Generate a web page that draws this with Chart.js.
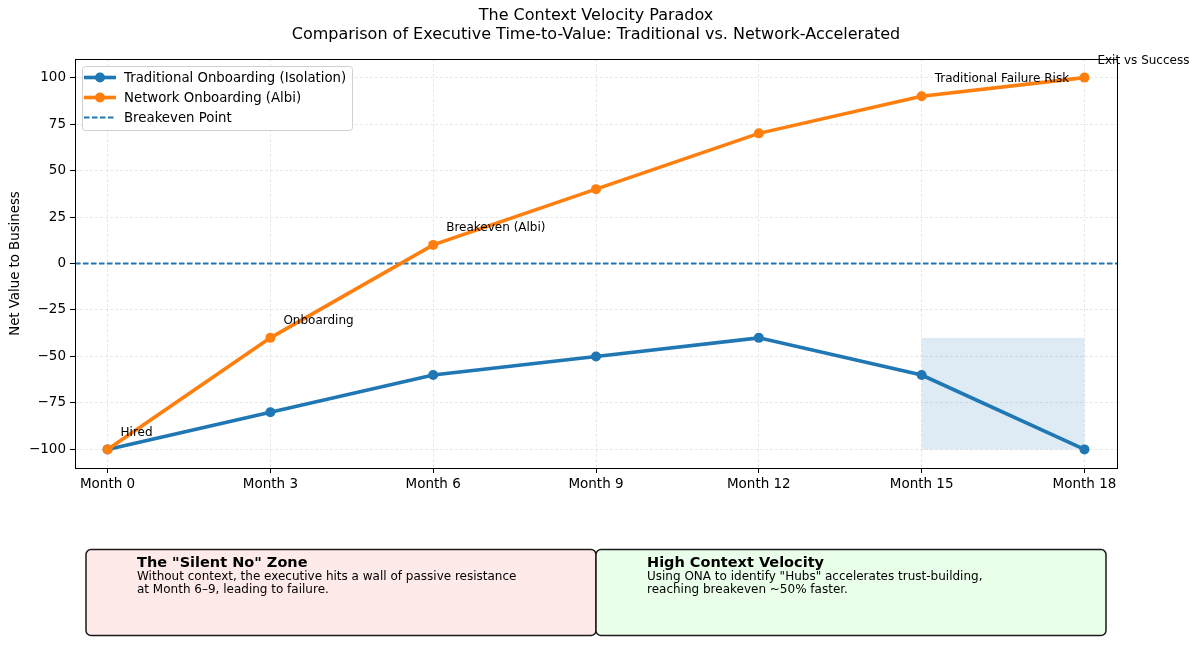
<!DOCTYPE html>
<html>
<head>
<meta charset="utf-8">
<title>The Context Velocity Paradox</title>
<script src="https://cdn.jsdelivr.net/npm/chart.js@4.4.1/dist/chart.umd.min.js"></script>
<style>
    body { margin: 0; background: #fff; }
    #wrap { width: 1200px; height: 661px; }
</style>
</head>
<body>
<div id="wrap"><canvas id="velocity-chart" width="1200" height="661"></canvas></div>
<script>
// --- DATA ---
const months = ['Month 0', 'Month 3', 'Month 6', 'Month 9', 'Month 12', 'Month 15', 'Month 18'];
const traditional = [-100, -80, -60, -50, -40, -60, -100];
const network = [-100, -40, 10, 40, 70, 90, 100];
const breakeven = 0;
const yTicks = [-100, -75, -50, -25, 0, 25, 50, 75, 100];

// annotations (label, month index, value)
const noteLabels = ['Hired', 'Onboarding', 'Breakeven (Albi)', 'Traditional Failure Risk', 'Exit vs Success'];
const noteMonths = [0, 1, 2, 5, 6];
const noteValues = [-100, -40, 10, 90, 100];

// shaded failure zone (month index range, value range)
const riskZoneMonths = [5, 6];
const riskZoneValues = [-100, -40];

const X_MIN = -0.2, X_MAX = 6.2;
const Y_MIN = -110, Y_MAX = 110;

const BLUE = '#1f77b4';
const ORANGE = '#ff7f0e';
const FONT = "'DejaVu Sans', sans-serif";

function toPoints(values) {
    return values.map((v, i) => ({ x: i, y: v }));
}

// --- CUSTOM DRAWING (frame, zone, legend, notes, titles, boxes) ---
const decorPlugin = {
    id: 'decor',
    beforeDatasetsDraw(chart) {
        const { ctx, scales: { x, y } } = chart;
        const x1 = x.getPixelForValue(riskZoneMonths[0]);
        const x2 = x.getPixelForValue(riskZoneMonths[1]);
        const y1 = y.getPixelForValue(riskZoneValues[1]);
        const y2 = y.getPixelForValue(riskZoneValues[0]);
        ctx.save();
        ctx.fillStyle = 'rgba(31, 119, 180, 0.15)';
        ctx.fillRect(x1, y1, x2 - x1, y2 - y1);
        ctx.restore();
    },
    afterDraw(chart) {
        const { ctx, chartArea: a, scales: { x, y } } = chart;
        ctx.save();

        // axes frame
        ctx.setLineDash([]);
        ctx.strokeStyle = '#000';
        ctx.lineWidth = 1;
        ctx.strokeRect(Math.round(a.left) + 0.5, Math.round(a.top) + 0.5,
            Math.round(a.right - a.left), Math.round(a.bottom - a.top));

        // titles
        ctx.fillStyle = '#000';
        ctx.textAlign = 'center';
        ctx.textBaseline = 'middle';
        ctx.font = `16px ${FONT}`;
        const cx = (a.left + a.right) / 2;
        ctx.fillText('The Context Velocity Paradox', cx, 16);
        ctx.fillText('Comparison of Executive Time-to-Value: Traditional vs. Network-Accelerated', cx, 35);

        // y axis title
        ctx.save();
        ctx.translate(16, (a.top + a.bottom) / 2);
        ctx.rotate(-Math.PI / 2);
        ctx.font = `13.3px ${FONT}`;
        ctx.fillText('Net Value to Business', 0, 0);
        ctx.restore();

        // legend (same order as the reference)
        const lx = a.left + 7, ly = a.top + 7, lw = 270, lh = 64;
        ctx.beginPath();
        ctx.roundRect(lx + 0.5, ly + 0.5, lw, lh, 3);
        ctx.fillStyle = 'rgba(255,255,255,0.85)';
        ctx.fill();
        ctx.strokeStyle = '#d0d0d0';
        ctx.lineWidth = 1;
        ctx.stroke();
        ctx.textAlign = 'left';
        ctx.font = `13.3px ${FONT}`;
        chart.data.datasets.forEach((ds, i) => {
            const ry = ly + 11.5 + i * 20;
            ctx.strokeStyle = ds.borderColor;
            ctx.lineWidth = ds.borderWidth;
            ctx.setLineDash(ds.borderDash || []);
            ctx.beginPath();
            ctx.moveTo(lx + 2, ry);
            ctx.lineTo(lx + 34, ry);
            ctx.stroke();
            ctx.setLineDash([]);
            if (ds.pointRadius) {
                ctx.fillStyle = ds.borderColor;
                ctx.beginPath();
                ctx.arc(lx + 18, ry, ds.pointRadius, 0, Math.PI * 2);
                ctx.fill();
            }
            ctx.fillStyle = '#000';
            ctx.fillText(ds.label, lx + 42, ry + 1);
        });

        // point annotations
        ctx.font = `12px ${FONT}`;
        ctx.fillStyle = '#000';
        noteLabels.forEach((label, i) => {
            const px = x.getPixelForValue(noteMonths[i]);
            const py = y.getPixelForValue(noteValues[i]);
            ctx.fillText(label, px + 13, py - 17);
        });

        // explanation boxes
        const boxes = [
            { x: 86, fill: '#ffeaea', title: 'The "Silent No" Zone',
              lines: ['Without context, the executive hits a wall of passive resistance', 'at Month 6\u20139, leading to failure.'] },
            { x: 596, fill: '#eaffea', title: 'High Context Velocity',
              lines: ['Using ONA to identify "Hubs" accelerates trust-building,', 'reaching breakeven ~50% faster.'] }
        ];
        boxes.forEach(b => {
            ctx.beginPath();
            ctx.roundRect(b.x, 549.5, 510, 86, 5);
            ctx.fillStyle = b.fill;
            ctx.fill();
            ctx.strokeStyle = '#1a1a1a';
            ctx.lineWidth = 1.5;
            ctx.stroke();
            ctx.fillStyle = '#000';
            ctx.font = `bold 14.5px ${FONT}`;
            ctx.fillText(b.title, b.x + 51, 563.5);
            ctx.font = `12px ${FONT}`;
            b.lines.forEach((t, j) => ctx.fillText(t, b.x + 51, 577 + j * 13));
        });

        ctx.restore();
    }
};

const gridOpts = {
    color: 'rgba(176,176,176,0.35)',
    lineWidth: 0.8,
    tickColor: '#000',
    tickLength: 5,
    tickWidth: 1,
    tickBorderDash: []
};

new Chart(document.getElementById('velocity-chart'), {
    type: 'line',
    data: {
        datasets: [
            {
                label: 'Traditional Onboarding (Isolation)',
                data: toPoints(traditional),
                borderColor: BLUE,
                backgroundColor: BLUE,
                borderWidth: 3.6,
                pointRadius: 5,
                pointBorderWidth: 0,
                tension: 0,
                order: 2
            },
            {
                label: 'Network Onboarding (Albi)',
                data: toPoints(network),
                borderColor: ORANGE,
                backgroundColor: ORANGE,
                borderWidth: 3.6,
                pointRadius: 5,
                pointBorderWidth: 0,
                tension: 0,
                order: 1
            },
            {
                label: 'Breakeven Point',
                data: [{ x: X_MIN, y: breakeven }, { x: X_MAX, y: breakeven }],
                borderColor: BLUE,
                borderWidth: 2,
                borderDash: [5.5, 2.5],
                pointRadius: 0,
                order: 3
            }
        ]
    },
    options: {
        responsive: false,
        animation: false,
        devicePixelRatio: 1,
        layout: { padding: { top: 59, right: 83, left: 0, bottom: 163 } },
        plugins: {
            legend: { display: false },
            tooltip: { enabled: false }
        },
        scales: {
            x: {
                type: 'linear',
                min: X_MIN,
                max: X_MAX,
                afterBuildTicks: s => { s.ticks = months.map((_, i) => ({ value: i })); },
                afterFit: s => { s.height = 30; },
                grid: gridOpts,
                border: { display: false, dash: [3, 2] },
                ticks: {
                    callback: v => months[v],
                    color: '#000',
                    font: { family: FONT, size: 13.5 },
                    padding: 3,
                    maxRotation: 0,
                    autoSkip: false
                }
            },
            y: {
                min: Y_MIN,
                max: Y_MAX,
                afterBuildTicks: s => { s.ticks = yTicks.map(v => ({ value: v })); },
                afterFit: s => { s.width = 75; },
                grid: gridOpts,
                border: { display: false, dash: [3, 2] },
                ticks: {
                    callback: v => v < 0 ? '\u2212' + Math.abs(v) : String(v),
                    color: '#000',
                    font: { family: FONT, size: 13.5 },
                    padding: 4
                }
            }
        }
    },
    plugins: [decorPlugin]
});
</script>
</body>
</html>
